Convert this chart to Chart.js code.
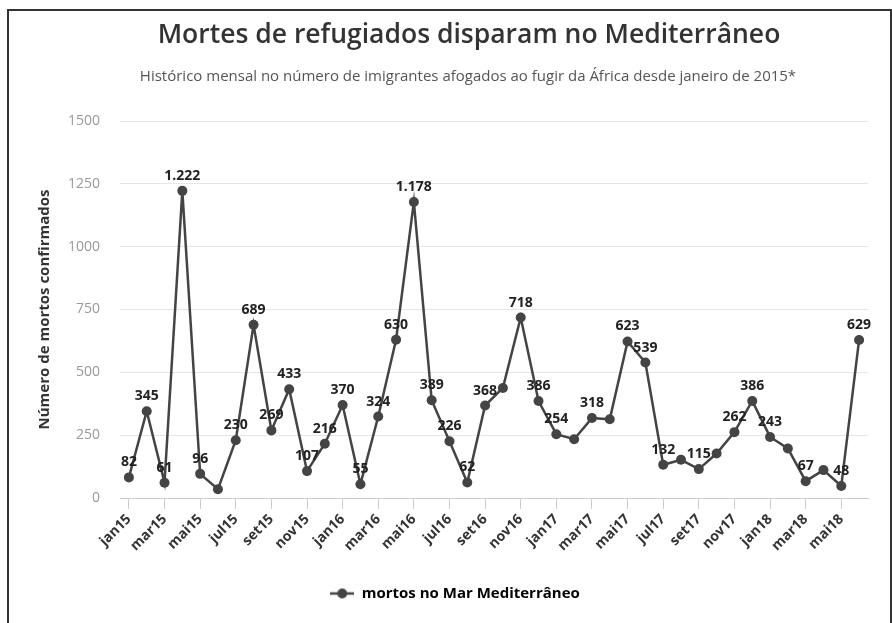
<!DOCTYPE html>
<html lang="pt-BR">
<head>
<meta charset="utf-8">
<script src="https://cdn.jsdelivr.net/npm/chart.js@4.4.1/dist/chart.umd.min.js"></script>
<style>
  body { margin: 0; background: #fff; font-family: "Open Sans", sans-serif; }
  #wrap { position: relative; width: 892px; height: 623px; overflow: hidden; }
  #moldura { position: absolute; left: 7px; top: 9px; width: 881px; height: 640px;
             border: 2px solid #333; pointer-events: none; }
  #titulo { position: absolute; left: 0; width: 938px; top: 15px; margin: 0; text-align: center;
            font-size: 26.5px; font-weight: 600; color: #333; }
  #subtitulo { position: absolute; left: 0; width: 936px; top: 65px; margin: 0; text-align: center;
               font-size: 15px; color: #555; }
</style>
</head>
<body>
<div id="wrap">
  <canvas id="graficoMortes" width="892" height="623"></canvas>
  <h1 id="titulo">Mortes de refugiados disparam no Mediterrâneo</h1>
  <p id="subtitulo">Histórico mensal no número de imigrantes afogados ao fugir da África desde janeiro de 2015*</p>
  <div id="moldura"></div>
</div>
<script>
  // meses de jan15 a jun18
  const meses = ['jan15','fev15','mar15','abr15','mai15','jun15','jul15','ago15','set15','out15','nov15','dez15',
                 'jan16','fev16','mar16','abr16','mai16','jun16','jul16','ago16','set16','out16','nov16','dez16',
                 'jan17','fev17','mar17','abr17','mai17','jun17','jul17','ago17','set17','out17','nov17','dez17',
                 'jan18','fev18','mar18','abr18','mai18','jun18'];

  const mortos = [82, 345, 61, 1222, 96, 35, 230, 689, 269, 433, 107, 216,
                  370, 55, 324, 630, 1178, 389, 226, 62, 368, 438, 718, 386,
                  254, 234, 318, 313, 623, 539, 132, 152, 115, 177, 262, 386,
                  243, 197, 67, 111, 48, 629];

  // pontos sem rótulo de valor no original
  const semRotulo = [5, 21, 25, 27, 31, 33, 37, 39];

  const yTicks = [0, 250, 500, 750, 1000, 1250, 1500];

  const corLinha = '#444444';

  // formata 1222 -> 1.222
  const formatar = v => String(v).replace(/\B(?=(\d{3})+(?!\d))/g, '.');

  // ícone da legenda: linha com círculo
  const iconeLegenda = document.createElement('canvas');
  iconeLegenda.width = 24;
  iconeLegenda.height = 12;
  const ic = iconeLegenda.getContext('2d');
  ic.strokeStyle = corLinha;
  ic.lineWidth = 2.5;
  ic.beginPath(); ic.moveTo(0, 6); ic.lineTo(24, 6); ic.stroke();
  ic.fillStyle = corLinha;
  ic.beginPath(); ic.arc(12, 6, 5, 0, Math.PI * 2); ic.fill();

  const rotulosPlugin = {
    id: 'rotulos',
    afterDatasetsDraw(chart) {
      const ctx = chart.ctx;
      const meta = chart.getDatasetMeta(0);
      ctx.save();
      ctx.font = 'bold 14px "Open Sans"';
      ctx.fillStyle = '#222';
      ctx.textAlign = 'center';
      ctx.textBaseline = 'alphabetic';
      meta.data.forEach((pt, i) => {
        if (semRotulo.includes(i)) return;
        ctx.fillText(formatar(mortos[i]), pt.x, pt.y - 11);
      });
      ctx.restore();
    }
  };

  const ctx = document.getElementById('graficoMortes').getContext('2d');
  const chart = new Chart(ctx, {
    type: 'line',
    data: {
      labels: meses,
      datasets: [{
        label: 'mortos no Mar Mediterrâneo',
        data: mortos,
        borderColor: corLinha,
        backgroundColor: corLinha,
        borderWidth: 2.5,
        pointStyle: 'circle',
        pointRadius: 5,
        pointHoverRadius: 5,
        pointBackgroundColor: corLinha,
        pointBorderWidth: 0,
        tension: 0,
        fill: false
      }]
    },
    options: {
      responsive: false,
      animation: false,
      layout: { padding: { left: 42, right: 24, top: 121, bottom: 12 } },
      scales: {
        x: {
          offset: true,
          afterFit: s => { s.height = 78; },
          grid: { drawOnChartArea: false, drawTicks: true, tickLength: 11, color: '#cccccc' },
          border: { color: '#cccccc' },
          ticks: {
            autoSkip: false,
            minRotation: 45,
            maxRotation: 45,
            padding: 2,
            color: '#333',
            font: { family: 'Open Sans', size: 14, weight: 'bold' },
            callback: (v, i) => (i % 2 === 0 ? meses[i] : null)
          }
        },
        y: {
          min: 0,
          max: 1500,
          afterFit: s => { s.width = 78; },
          afterBuildTicks: s => { s.ticks = yTicks.map(v => ({ value: v })); },
          grid: { color: '#e6e6e6', drawTicks: false },
          border: { display: false },
          ticks: {
            padding: 20,
            color: '#999',
            font: { family: 'Open Sans', size: 14 },
            callback: v => String(v)
          },
          title: {
            display: true,
            text: 'Número de mortos confirmados',
            color: '#333',
            padding: 0,
            font: { family: 'Open Sans', size: 15, weight: 'bold', lineHeight: 0.4 }
          }
        }
      },
      plugins: {
        legend: {
          position: 'bottom',
          labels: {
            usePointStyle: true,
            pointStyleWidth: 24,
            padding: 10,
            color: '#333',
            font: { family: 'Open Sans', size: 15, weight: 'bold' },
            generateLabels: c => [{
              text: c.data.datasets[0].label,
              pointStyle: iconeLegenda,
              fillStyle: corLinha,
              strokeStyle: corLinha,
              lineWidth: 0,
              datasetIndex: 0,
              hidden: false
            }]
          }
        },
        tooltip: { enabled: false }
      }
    },
    plugins: [rotulosPlugin]
  });
</script>
</body>
</html>
